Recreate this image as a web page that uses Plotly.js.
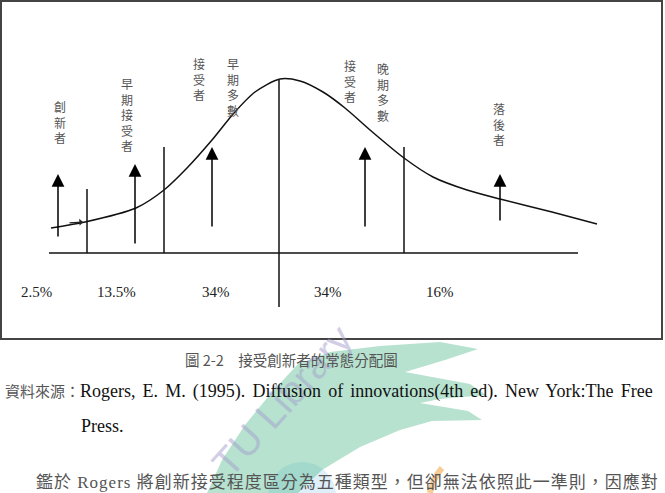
<!DOCTYPE html>
<html>
<head>
<meta charset="utf-8">
<script src="https://cdn.plot.ly/plotly-3.0.1.min.js"></script>
<style>html,body{margin:0;padding:0;background:#fff;}#chart{width:665px;height:493px;}</style>
</head>
<body>
<div id="chart"></div>
<script>
// ---- data (x: horizontal position, h: height above the baseline) ----
const curveX = [51, 85, 136, 164, 187, 212, 234, 255, 280, 300, 323, 345, 370, 404, 433, 467, 500, 552, 597];
const curveH = [25, 31, 45, 63, 85, 113, 140, 161, 174, 172, 161, 145, 123, 95, 76, 63, 54, 41, 29];

const baselineX = [49, 578];
const dividerX = [87, 164, 404];
const dividerTop = [64, 106, 106];
const meanX = 279;
const meanTop = 173;
const meanBottom = -54;

const arrowX = [58, 135, 212, 365, 500];
const arrowTail = [15, 8, 25, 25, 31];
const arrowTip = [79, 89, 106, 106, 79];

const categories = ['創新者', '早期接受者', '接受者', '早期多數', '接受者', '晚期多數', '落後者'];
const categoryX = [60, 127, 199, 233, 350, 383, 499];
const categoryTop = [156, 179, 199, 199, 197, 194, 154]; // top edge of each vertical label

const shareLabels = ['2.5%', '13.5%', '34%', '34%', '16%'];
const shareX = [36, 116, 216, 328, 440];
const shareH = -39;

const captionText = '圖 2-2　接受創新者的常態分配圖';
const sourceLabel = '資料來源：';
const sourceText = 'Rogers, E. M. (1995). Diffusion of innovations(4th ed). New York:The Free';
const sourceText2 = 'Press.';

// ---- helpers ----
const BASE = 253; // picture row of the baseline
const P = (px, py) => [px, BASE - py];
const CJK = 'Noto Sans CJK TC, Noto Sans CJK SC, sans-serif';
const SERIF = 'Liberation Serif, Times New Roman, serif';

const traces = [];
traces.push({x: curveX, y: curveH, mode: 'lines', line: {color: '#111', width: 1.5, shape: 'spline', smoothing: 0.8}, hoverinfo: 'skip'});
traces.push({x: baselineX, y: [0, 0], mode: 'lines', line: {color: '#111', width: 1.5}, hoverinfo: 'skip'});
dividerX.forEach((x, i) => traces.push({x: [x, x], y: [0, dividerTop[i]], mode: 'lines', line: {color: '#111', width: 1.5}, hoverinfo: 'skip'}));
traces.push({x: [meanX, meanX], y: [meanBottom, meanTop], mode: 'lines', line: {color: '#111', width: 1.5}, hoverinfo: 'skip'});

const annotations = [];
arrowX.forEach((x, i) => annotations.push({
  x: x, y: arrowTip[i], ax: x, ay: arrowTail[i], xref: 'x', yref: 'y', axref: 'x', ayref: 'y',
  text: '', showarrow: true, arrowhead: 2, arrowsize: 1.7, arrowwidth: 1.5, arrowcolor: '#000'
}));
annotations.push({x: 83, y: 31, ax: 68, ay: 30, xref: 'x', yref: 'y', axref: 'x', ayref: 'y',
  text: '', showarrow: true, arrowhead: 1, arrowsize: 1, arrowwidth: 1.2, arrowcolor: '#222'});

// vertical category labels (characters stacked)
categories.forEach((c, i) => annotations.push({
  x: categoryX[i], y: categoryTop[i], xref: 'x', yref: 'y', showarrow: false,
  text: Array.from(c).join('<br>'), font: {family: CJK, size: 12, color: '#555'},
  xanchor: 'center', yanchor: 'top', align: 'center', borderpad: 0
}));
shareLabels.forEach((s, i) => annotations.push({
  x: shareX[i], y: shareH, xref: 'x', yref: 'y', showarrow: false, text: s,
  font: {family: SERIF, size: 15, color: '#222'}, xanchor: 'center', yanchor: 'middle'
}));

// watermark (visible part)
const wm = P(282, 401);
annotations.push({x: wm[0], y: wm[1], xref: 'x', yref: 'y', showarrow: false, text: 'TU Library', textangle: -48,
  font: {family: 'Liberation Sans, Arial, sans-serif', size: 40, color: 'rgba(165,158,205,0.5)'}});

// caption & source
let c = P(291, 359);
annotations.push({x: c[0], y: c[1], xref: 'x', yref: 'y', showarrow: false, text: captionText,
  font: {family: CJK, size: 14.5, color: '#555'}, xanchor: 'center', yanchor: 'middle'});
c = P(3, 391);
annotations.push({x: c[0], y: c[1], xref: 'x', yref: 'y', showarrow: false,
  text: '<span style="font-family:Noto Sans CJK TC;font-size:15px;color:#555">' + sourceLabel + '</span>' +
        '<span style="word-spacing:2.6px">' + sourceText + '</span>',
  font: {family: SERIF, size: 18, color: '#111'}, xanchor: 'left', yanchor: 'middle'});
c = P(79, 426);
annotations.push({x: c[0], y: c[1], xref: 'x', yref: 'y', showarrow: false, text: sourceText2,
  font: {family: SERIF, size: 18, color: '#111'}, xanchor: 'left', yanchor: 'middle'});
c = P(34, 480);
annotations.push({x: c[0], y: c[1], xref: 'x', yref: 'y', showarrow: false,
  text: '<span style="letter-spacing:1px">鑑於<span style="font-family:Liberation Serif"> Rogers </span>將創新接受程度區分為五種類型，但卻無法依照此一準則，因應對</span>',
  font: {family: CJK, size: 17, color: '#555'}, xanchor: 'left', yanchor: 'middle'});

// shapes: frame + watermark pieces
const toPath = (pts) => 'M ' + pts.map(p => { const q = P(p[0], p[1]); return q[0] + ',' + q[1]; }).join(' L ') + ' Z';
const hand = [[207,493],[222,460],[245,425],[272,392],[298,364],[330,352],[380,346],[440,342],[478,349],[445,360],[405,372],[470,384],[486,395],[440,399],[420,403],[468,411],[482,420],[432,421],[400,430],[360,447],[322,470],[298,493]];
const f0 = P(1, 1), f1 = P(662, 339);
const b0 = P(268, 462), b1 = P(336, 530);
const shapes = [
  {type: 'circle', xref: 'x', yref: 'y', x0: b0[0], y0: b0[1], x1: b1[0], y1: b1[1], layer: 'below',
   fillcolor: 'rgba(175,215,242,0.4)', line: {width: 0}},
  {type: 'path', xref: 'x', yref: 'y', path: toPath(hand), layer: 'below',
   fillcolor: 'rgba(80,185,140,0.42)', line: {width: 0}},
  {type: 'path', xref: 'x', yref: 'y', layer: 'below',
   path: 'M ' + P(442,468).join(',') + ' Q ' + P(433,478).join(',') + ' ' + P(430,493).join(','),
   line: {color: 'rgba(245,170,80,0.6)', width: 6}},
  {type: 'rect', xref: 'x', yref: 'y', x0: f0[0], y0: f0[1], x1: f1[0], y1: f1[1],
   line: {color: '#444', width: 2}, fillcolor: 'rgba(0,0,0,0)'}
];

const layout = {
  width: 665, height: 493, margin: {l: 0, r: 0, t: 0, b: 0},
  paper_bgcolor: '#fff', plot_bgcolor: 'rgba(0,0,0,0)', showlegend: false,
  xaxis: {range: [0, 665], visible: false, fixedrange: true},
  yaxis: {range: [BASE - 493, BASE], visible: false, fixedrange: true},
  annotations: annotations, shapes: shapes
};
Plotly.newPlot('chart', traces, layout, {staticPlot: true, displayModeBar: false});
</script>
</body>
</html>
